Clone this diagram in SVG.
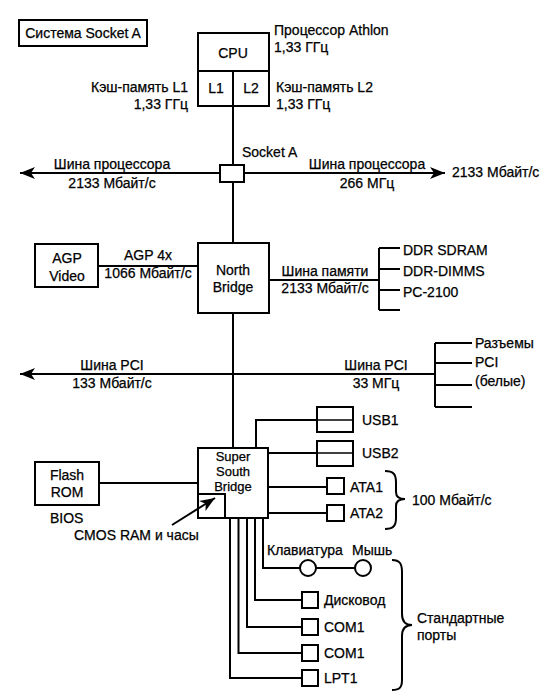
<svg xmlns="http://www.w3.org/2000/svg" width="558" height="698" viewBox="0 0 558 698">
<defs>
<style>
text{font-family:"Liberation Sans",Arial,sans-serif;font-size:14px;fill:#000;stroke:#000;stroke-width:0.25}
.m{text-anchor:middle}
.e{text-anchor:end}
.s{font-size:13px}
.b{fill:#fff;stroke:#000;stroke-width:2}
.l{fill:none;stroke:#000;stroke-width:2}
.t{fill:none;stroke:#000;stroke-width:1.3}
</style>
<marker id="ah" markerUnits="userSpaceOnUse" markerWidth="16" markerHeight="14" refX="15" refY="7" orient="auto">
<path d="M0,1 L15,7 L0,13 L4,7 z" fill="#000"/>
</marker>
</defs>
<rect width="558" height="698" fill="#fff"/>

<g id="connectors">
<line class="l" x1="233" y1="106" x2="233" y2="448"/>
<line class="l" x1="220" y1="173" x2="20" y2="173" marker-end="url(#ah)"/>
<line class="l" x1="244" y1="173" x2="445" y2="173" marker-end="url(#ah)"/>
<line class="l" x1="98" y1="266" x2="198" y2="266"/>
<line class="l" x1="269" y1="280" x2="379" y2="280"/>
<path class="l" d="M379,248 V310 M379,248 H400 M379,269 H400 M379,290 H400 M379,310 H400"/>
<line class="l" x1="233" y1="374" x2="20" y2="374" marker-end="url(#ah)"/>
<line class="l" x1="233" y1="374" x2="435" y2="374"/>
<path class="l" d="M435,343 V407 M435,343 H472 M435,363 H472 M435,385 H472 M435,407 H472"/>
<line class="l" x1="99" y1="483" x2="198" y2="483"/>
<path class="l" d="M256,448 V420 H317"/>
<line class="l" x1="268" y1="453" x2="317" y2="453"/>
<line class="l" x1="268" y1="487" x2="327" y2="487"/>
<line class="l" x1="268" y1="513" x2="327" y2="513"/>
<path class="l" d="M263,518 V568 H300 M316,568 H355"/>
<path class="l" d="M255,518 V600 H302"/>
<path class="l" d="M247,518 V627 H302"/>
<path class="l" d="M238.5,518 V653 H302"/>
<path class="l" d="M230,518 V678 H302"/>
<path class="l" d="M385,471 C393,471 396,474 396,482 L396,492 C396,497 399,499 405,499 C399,499 396,501 396,506 L396,518 C396,526 393,529 385,529"/>
<path class="l" d="M392,560 C400,560 402,564 402,572 L402,614 C402,621 405,625 412,625 C405,625 402,629 402,636 L402,680 C402,687 400,690 392,690"/>
</g>

<g id="title">
<rect class="b" x="19" y="20" width="128" height="26"/>
<text class="m" x="83" y="38">Система Socket A</text>
</g>

<g id="cpu">
<rect class="b" x="198" y="33" width="71" height="73"/>
<line class="l" x1="198" y1="71" x2="269" y2="71"/>
<line class="l" x1="233" y1="71" x2="233" y2="106"/>
<text class="m" x="233" y="58">CPU</text>
<text class="m" x="216" y="93">L1</text>
<text class="m" x="251" y="93">L2</text>
</g>
<g id="cpu-labels">
<text x="274" y="35">Процессор Athlon</text>
<text x="274" y="52">1,33 ГГц</text>
<text class="e" x="188" y="92">Кэш-память L1</text>
<text class="e" x="188" y="109">1,33 ГГц</text>
<text x="276" y="92">Кэш-память L2</text>
<text x="276" y="109">1,33 ГГц</text>
</g>

<g id="socket">
<rect class="b" x="220" y="165" width="24" height="17"/>
<text x="242" y="157">Socket A</text>
</g>
<g id="cpu-bus-labels">
<text class="m" x="112" y="169">Шина процессора</text>
<text class="m" x="112" y="188">2133 Мбайт/с</text>
<text class="m" x="367" y="169">Шина процессора</text>
<text class="m" x="367" y="188">266 МГц</text>
<text x="452" y="177">2133 Мбайт/с</text>
</g>

<g id="agp">
<rect class="b" x="35" y="244" width="63" height="43"/>
<text class="m" x="67" y="263">AGP</text>
<text class="m" x="67" y="281">Video</text>
<text class="m" x="148" y="260">AGP 4x</text>
<text class="m" x="148" y="278">1066 Мбайт/с</text>
</g>

<g id="northbridge">
<rect class="b" x="198" y="243" width="71" height="70"/>
<text class="m" x="233" y="275">North</text>
<text class="m" x="233" y="292">Bridge</text>
</g>

<g id="memory">
<text class="m" x="325" y="276">Шина памяти</text>
<text class="m" x="325" y="293">2133 Мбайт/с</text>
<text x="403" y="255">DDR SDRAM</text>
<text x="403" y="276">DDR-DIMMS</text>
<text x="403" y="297">PC-2100</text>
</g>

<g id="pci">
<text class="m" x="112" y="370">Шина PCI</text>
<text class="m" x="112" y="388">133 Мбайт/с</text>
<text class="m" x="376" y="370">Шина PCI</text>
<text class="m" x="376" y="388">33 МГц</text>
<text x="475" y="348">Разъемы</text>
<text x="475" y="367">PCI</text>
<text x="475" y="386">(белые)</text>
</g>

<g id="southbridge">
<rect class="b" x="198" y="448" width="70" height="70"/>
<path class="l" d="M198,494 H225 V518"/>
<text class="m s" x="233" y="461">Super</text>
<text class="m s" x="233" y="476">South</text>
<text class="m s" x="233" y="491">Bridge</text>
</g>

<g id="flash">
<rect class="b" x="35" y="462" width="64" height="43"/>
<text class="m" x="67" y="480">Flash</text>
<text class="m" x="67" y="497">ROM</text>
<text x="50" y="523">BIOS</text>
<text x="74" y="540">CMOS RAM и часы</text>
</g>

<g id="cmos-pointer">
<line class="l" x1="172" y1="525" x2="215" y2="498" marker-end="url(#ah)"/>
</g>

<g id="usb1">
<rect class="b" x="317" y="407" width="36" height="25"/>
<line class="t" x1="317" y1="420" x2="353" y2="420"/>
<text x="362" y="425">USB1</text>
</g>
<g id="usb2">
<rect class="b" x="317" y="441" width="36" height="25"/>
<line class="t" x1="317" y1="453" x2="353" y2="453"/>
<text x="362" y="458">USB2</text>
</g>
<g id="ata1">
<rect class="b" x="327" y="478" width="17" height="16"/>
<text x="350" y="492">ATA1</text>
</g>
<g id="ata2">
<rect class="b" x="327" y="505" width="17" height="16"/>
<text x="350" y="518">ATA2</text>
</g>
<text x="412" y="505">100 Мбайт/с</text>

<g id="keyboard">
<circle class="b" cx="308" cy="568" r="8"/>
<text x="267" y="555">Клавиатура</text>
</g>
<g id="mouse">
<circle class="b" cx="363" cy="568" r="8"/>
<text x="352" y="555">Мышь</text>
</g>
<g id="floppy">
<rect class="b" x="302" y="592" width="16" height="16"/>
<text x="324" y="605">Дисковод</text>
</g>
<g id="com1a">
<rect class="b" x="302" y="619" width="16" height="16"/>
<text x="324" y="632">COM1</text>
</g>
<g id="com1b">
<rect class="b" x="302" y="645" width="16" height="16"/>
<text x="324" y="658">COM1</text>
</g>
<g id="lpt1">
<rect class="b" x="302" y="670" width="16" height="16"/>
<text x="324" y="683">LPT1</text>
</g>
<text x="417" y="623">Стандартные</text>
<text x="417" y="640">порты</text>
</svg>
